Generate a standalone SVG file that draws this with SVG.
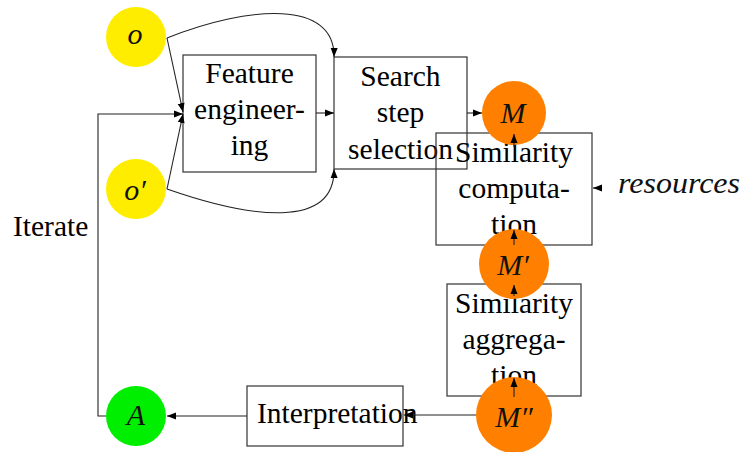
<svg xmlns="http://www.w3.org/2000/svg" width="743" height="452" viewBox="0 0 743 452">
<defs>
<marker id="ah" markerWidth="10" markerHeight="8" refX="9" refY="4" orient="auto" markerUnits="userSpaceOnUse">
<path d="M0,0.5 L9,4 L0,7.5 Z" fill="#000"/>
</marker>
</defs>
<style>
.box{fill:#fff;stroke:#333;stroke-width:1.2}
.t{font-family:"Liberation Serif","Times New Roman",serif;font-size:29.5px;fill:#000}
.m{font-family:"Liberation Serif","Times New Roman",serif;font-size:30px;font-style:italic;fill:#111}
.c{text-anchor:middle}
.ln{fill:none;stroke:#222;stroke-width:1.1}
.ar{fill:none;stroke:#222;stroke-width:1.1;marker-end:url(#ah)}
</style>
<rect width="743" height="452" fill="#fff"/>
<g id="feature">
<rect class="box" x="183" y="55" width="133" height="117"/>
<text class="t c" x="249.5" y="83">Feature</text>
<text class="t c" x="249.5" y="119">engineer-</text>
<text class="t c" x="249.5" y="155">ing</text>
</g>
<g id="search">
<rect class="box" x="334" y="57" width="133" height="112"/>
<text class="t c" x="400.5" y="86">Search</text>
<text class="t c" x="400.5" y="122">step</text>
<text class="t c" x="400.5" y="159">selection</text>
</g>
<g id="simcomp">
<rect class="box" x="436" y="133" width="156" height="112" fill-opacity="0"/>
<text class="t c" x="514" y="162">Similarity</text>
<text class="t c" x="514" y="198">computa-</text>
<text class="t c" x="514" y="234">tion</text>
</g>
<g id="simagg">
<rect class="box" x="447" y="284" width="134" height="112"/>
<text class="t c" x="514" y="313">Similarity</text>
<text class="t c" x="514" y="349">aggrega-</text>
<text class="t c" x="514" y="385">tion</text>
</g>
<g id="interp">
<rect class="box" x="247" y="386" width="156" height="60"/>
<text class="t" x="257" y="423">Interpretation</text>
</g>
<g id="iterate">
<text class="t" x="13" y="236">Iterate</text>
</g>
<g id="resources">
<text class="m" x="618" y="193" textLength="122" lengthAdjust="spacingAndGlyphs">resources</text>
</g>
<g id="o">
<circle cx="136" cy="37" r="30" fill="#ffed00"/>
<text class="m c" x="135" y="44">o</text>
</g>
<g id="o2">
<circle cx="136" cy="189" r="30" fill="#ffed00"/>
<text class="m c" x="135" y="200">o′</text>
</g>
<g id="A">
<circle cx="136" cy="416" r="30" fill="#00ee00"/>
<text class="m c" x="136" y="425">A</text>
</g>
<g id="M">
<circle cx="514" cy="113" r="32" fill="#ff8000"/>
<text class="m c" x="513" y="123">M</text>
</g>
<g id="M1">
<circle cx="514" cy="264" r="35" fill="#ff8000"/>
<text class="m c" x="513" y="275">M′</text>
</g>
<g id="M2">
<circle cx="514" cy="415" r="38" fill="#ff8000"/>
<text class="m c" x="514" y="427">M″</text>
</g>
<g id="connectors">
<path class="ar" d="M167,38 L183,112"/>
<path class="ar" d="M167,189 L183,114"/>
<path class="ar" d="M106,416 L98,416 L98,114 L183,114"/>
<path class="ar" d="M316,113 L334,113"/>
<path class="ar" d="M167,38 C250,5 335,0 334,57"/>
<path class="ar" d="M167,189 C250,218 335,230 334,169"/>
<path class="ar" d="M467,113 L482,113"/>
<path class="ar" d="M514,147 L514,134"/>
<path class="ar" d="M514,245 L514,230"/>
<path class="ar" d="M514,296 L514,285"/>
<path class="ar" d="M514,397 L514,378"/>
<path class="ar" d="M476,415 L404,415"/>
<path class="ar" d="M247,416 L167,416"/>
<path class="ar" d="M602,188 L593,188"/>
</g>
</svg>
